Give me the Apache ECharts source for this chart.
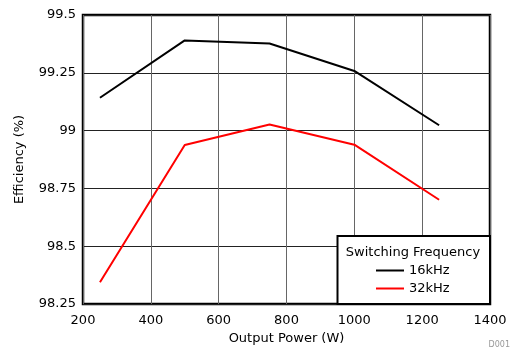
<!DOCTYPE html>
<html><head><meta charset="utf-8">
<script src="https://cdn.jsdelivr.net/npm/echarts@6/dist/echarts.min.js"></script>
<style>html,body{margin:0;padding:0;background:#fff;}#c{width:513px;height:350px;}</style>
</head><body><div id="c"></div>
<script>
var power = [250, 500, 750, 1000, 1250];
var eff16 = [99.142, 99.39, 99.377, 99.258, 99.023];
var eff32 = [98.344, 98.938, 99.026, 98.939, 98.701];
var seriesNames = ['16kHz', '32kHz'];
var legendTitle = 'Switching Frequency';
var xName = 'Output Power (W)';
var yName = 'Efficiency (%)';
var yTickLabels = {'98.25':'98.25','98.5':'98.5','98.75':'98.75','99':'99','99.25':'99.25','99.5':'99.5'};
var font = 'DejaVu Sans';

var chart = echarts.init(document.getElementById('c'), null, {renderer:'canvas'});
chart.setOption({
  animation: false,
  backgroundColor: '#fff',
  grid: {left: 83, top: 15, right: 23, bottom: 46, show: true, borderColor: '#000', borderWidth: 2.5, backgroundColor: 'transparent'},
  xAxis: {
    type: 'value', min: 200, max: 1400, interval: 200,
    name: xName, nameLocation: 'middle', nameGap: 28,
    nameTextStyle: {fontFamily: font, fontSize: 13, color: '#000'},
    axisLine: {show: false}, axisTick: {show: false},
    axisLabel: {fontFamily: font, fontSize: 13, color: '#000', margin: 10, formatter: function(v){ return String(v); }},
    splitLine: {show: true, lineStyle: {color: '#666', width: 1}}
  },
  yAxis: {
    type: 'value', min: 98.25, max: 99.5, interval: 0.25,
    name: yName, nameLocation: 'middle', nameGap: 57,
    nameTextStyle: {fontFamily: font, fontSize: 13, color: '#000'},
    axisLine: {show: false}, axisTick: {show: false},
    axisLabel: {fontFamily: font, fontSize: 13, color: '#000', margin: 7,
      formatter: function(v){ var k = String(+v.toFixed(2)); return yTickLabels[k] !== undefined ? yTickLabels[k] : k; }},
    splitLine: {show: true, lineStyle: {color: '#222', width: 1}}
  },
  legend: {
    orient: 'vertical', left: 376, top: 263, padding: 0, z: 60,
    icon: 'rect', itemWidth: 28, itemHeight: 2, itemGap: 3,
    textStyle: {fontFamily: font, fontSize: 13, color: '#000', lineHeight: 15},
    data: seriesNames
  },
  graphic: [
    {type: 'rect', z: 50, shape: {x: 337.5, y: 236, width: 152.5, height: 68}, style: {fill: '#fff', stroke: '#000', lineWidth: 2}},
    {type: 'text', z: 60, x: 413, y: 253, style: {text: legendTitle, font: '13px "DejaVu Sans"', fill: '#000', textAlign: 'center', textVerticalAlign: 'middle'}},
    {type: 'text', z: 60, x: 510, y: 345, style: {text: 'D001', font: '8px "DejaVu Sans"', fill: '#999', textAlign: 'right', textVerticalAlign: 'middle'}}
  ],
  series: [
    {name: seriesNames[0], type: 'line', data: power.map(function(p,i){return [p, eff16[i]];}), symbol: 'none', lineStyle: {color: '#000', width: 2}, itemStyle: {color: '#000'}},
    {name: seriesNames[1], type: 'line', data: power.map(function(p,i){return [p, eff32[i]];}), symbol: 'none', lineStyle: {color: '#ff0000', width: 2}, itemStyle: {color: '#ff0000'}}
  ]
});
</script></body></html>
